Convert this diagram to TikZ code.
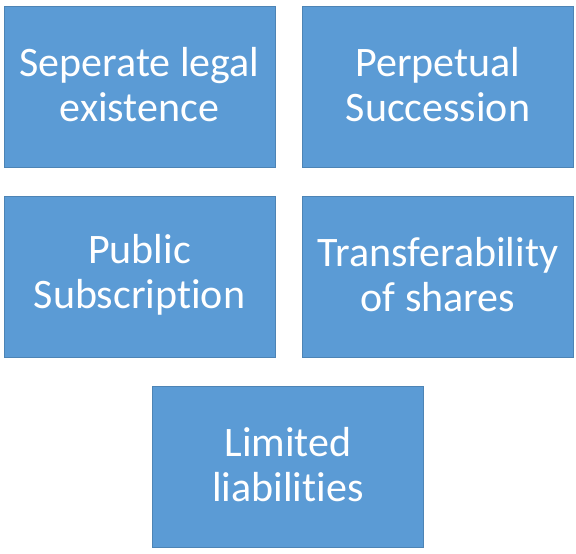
\documentclass[tikz,border=0pt]{standalone}
\usepackage{fontspec}
\setmainfont[Ligatures={NoCommon}]{Carlito}
\definecolor{boxblue}{HTML}{5B9BD5}
\begin{document}
\begin{tikzpicture}[x=1pt,y=1pt,
  card/.style={fill=boxblue, draw=boxblue!85!black, line width=0.6pt, minimum width=271pt, minimum height=161pt, inner sep=0pt, text=white, align=center, font=\fontsize{42}{45}\selectfont},
  cardtext/.style={text=white, align=center, font=\fontsize{42}{45}\selectfont, inner sep=0pt}]
\useasboundingbox (0,0) rectangle (576,554);
\node[card] (a) at (139.5,467.5) {};
\node[card] (b) at (438,467.5) {};
\node[card] (c) at (139.5,277.5) {};
\node[card] (d) at (438,277.5) {};
\node[card] (e) at (288,87.5) {};
\node[cardtext] (ta) at ([yshift=2pt]a.center) {Seperate legal\\existence};
\node[cardtext] (tb) at ([yshift=2pt]b.center) {Perpetual\\Succession};
\node[cardtext] (tc) at ([yshift=2pt]c.center) {Public\\Subscription};
\node[cardtext] (td) at ([yshift=2pt]d.center) {Transferability\\of shares};
\node[cardtext] (te) at ([yshift=2pt]e.center) {Limited\\liabilities};
\end{tikzpicture}
\end{document}
